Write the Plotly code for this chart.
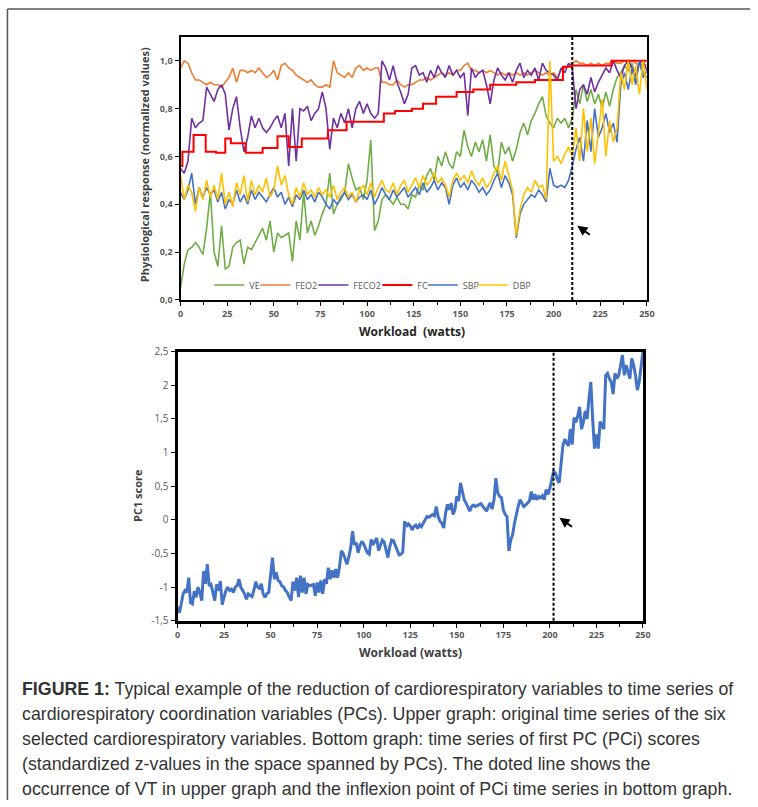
import plotly.graph_objects as go

# ---------------- data (upper graph, sampled every 2 W) ----------------
workload = list(range(0, 251, 2))

VE = [0.05, 0.15, 0.21, 0.22, 0.24, 0.22, 0.19, 0.30, 0.45, 0.20,
      0.14, 0.31, 0.13, 0.14, 0.22, 0.24, 0.25, 0.15, 0.22, 0.21,
      0.24, 0.27, 0.30, 0.25, 0.33, 0.20, 0.28, 0.26, 0.27, 0.28,
      0.16, 0.33, 0.25, 0.45, 0.28, 0.33, 0.27, 0.31, 0.36, 0.40,
      0.53, 0.36, 0.40, 0.42, 0.45, 0.57, 0.51, 0.46, 0.47, 0.42,
      0.50, 0.67, 0.29, 0.33, 0.42, 0.44, 0.42, 0.40, 0.43, 0.40,
      0.40, 0.38, 0.44, 0.43, 0.48, 0.46, 0.52, 0.55, 0.50, 0.60,
      0.56, 0.62, 0.57, 0.55, 0.62, 0.60, 0.71, 0.64, 0.60, 0.66,
      0.62, 0.67, 0.58, 0.69, 0.56, 0.53, 0.66, 0.61, 0.64, 0.58,
      0.63, 0.70, 0.74, 0.69, 0.75, 0.78, 0.82, 0.85, 0.77, 0.74,
      0.72, 0.76, 0.74, 0.76, 0.72, 0.76, 0.88, 0.82, 0.90, 0.83,
      0.88, 0.82, 0.86, 0.80, 0.87, 0.81, 0.88, 0.93, 0.95, 0.98,
      0.96, 0.99, 0.92, 1.00, 0.95, 0.93]

FEO2 = [0.97, 1.00, 0.99, 0.95, 0.92, 0.92, 0.91, 0.90, 0.91, 0.90,
        0.90, 0.89, 0.91, 0.93, 0.97, 0.91, 0.96, 0.96, 0.95, 0.96,
        0.95, 0.97, 0.95, 0.93, 0.94, 0.96, 0.92, 0.98, 0.99, 0.97,
        0.96, 0.94, 0.93, 0.92, 0.91, 0.92, 0.90, 0.89, 0.89, 0.90,
        0.89, 1.00, 0.95, 0.94, 0.93, 0.95, 0.93, 0.97, 0.98, 0.96,
        0.97, 0.96, 0.97, 0.97, 0.91, 0.91, 0.90, 0.90, 0.92, 0.90,
        0.89, 0.90, 0.90, 0.91, 0.92, 0.92, 0.93, 0.92, 0.93, 0.94,
        0.95, 0.94, 0.95, 0.94, 0.96, 0.96, 0.98, 0.99, 0.96, 0.96,
        0.95, 0.96, 0.95, 0.96, 0.95, 0.94, 0.95, 0.94, 0.95, 0.94,
        0.95, 0.94, 0.95, 0.94, 0.95, 0.96, 0.95, 0.94, 0.95, 0.94,
        0.95, 0.93, 0.96, 0.97, 0.98, 0.99, 1.00, 0.99, 0.99, 0.98,
        0.99, 0.98, 0.99, 0.98, 0.99, 0.99, 1.00, 0.99, 0.99, 1.00,
        0.99, 1.00, 0.99, 0.98, 0.99, 0.98]

FECO2 = [0.55, 0.53, 0.58, 0.76, 0.72, 0.74, 0.75, 0.89, 0.86, 0.83,
         0.88, 0.90, 0.86, 0.71, 0.80, 0.85, 0.72, 0.62, 0.68, 0.77,
         0.72, 0.76, 0.72, 0.70, 0.72, 0.75, 0.77, 0.72, 0.78, 0.56,
         0.80, 0.58, 0.80, 0.79, 0.81, 0.75, 0.78, 0.80, 0.87, 0.80,
         0.63, 0.76, 0.72, 0.78, 0.74, 0.80, 0.72, 0.80, 0.83, 0.78,
         0.82, 0.78, 0.76, 0.78, 1.00, 0.97, 0.92, 0.98, 0.91, 0.87,
         0.82, 0.86, 0.97, 0.98, 0.94, 0.95, 0.91, 0.96, 0.93, 0.98,
         0.95, 0.93, 0.98, 0.94, 0.96, 0.93, 0.95, 0.77, 0.97, 0.93,
         0.95, 0.96, 0.90, 0.82, 0.92, 0.97, 0.94, 0.92, 0.95, 0.91,
         0.96, 0.99, 0.93, 0.96, 0.94, 0.97, 0.92, 0.99, 0.96, 0.95,
         0.94, 0.92, 0.97, 0.95, 0.99, 0.97, 0.80, 0.88, 0.90, 0.86,
         0.93, 0.87, 0.91, 0.94, 0.97, 0.95, 1.00, 0.96, 0.93, 0.98,
         1.00, 0.97, 0.94, 0.99, 1.00, 0.96]

# heart rate (FC) is a step series: change points
FC_x = [0, 1, 7, 13.5, 19, 24, 27, 35, 44, 52, 58, 65, 79, 89, 109, 115,
        124, 130, 137, 148, 157, 166, 180, 190, 205, 210, 231, 250]
FC_y = [0.56, 0.62, 0.69, 0.62, 0.615, 0.675, 0.655, 0.615, 0.635, 0.685,
        0.64, 0.675, 0.71, 0.745, 0.78, 0.79, 0.80, 0.82, 0.85, 0.87,
        0.88, 0.90, 0.91, 0.92, 0.975, 0.98, 1.00, 1.00]

SBP = [0.45, 0.42, 0.46, 0.53, 0.40, 0.47, 0.43, 0.47, 0.44, 0.46,
       0.41, 0.45, 0.38, 0.42, 0.40, 0.46, 0.41, 0.44, 0.40, 0.46,
       0.42, 0.45, 0.43, 0.41, 0.44, 0.47, 0.43, 0.45, 0.40, 0.43,
       0.39, 0.44, 0.42, 0.46, 0.42, 0.44, 0.41, 0.45, 0.43, 0.40,
       0.38, 0.42, 0.40, 0.43, 0.45, 0.42, 0.44, 0.41, 0.43, 0.44,
       0.42, 0.46, 0.40, 0.43, 0.47, 0.44, 0.42, 0.46, 0.43, 0.45,
       0.47, 0.43, 0.45, 0.47, 0.44, 0.49, 0.45, 0.47, 0.50, 0.46,
       0.49, 0.47, 0.40, 0.48, 0.51, 0.47, 0.49, 0.46, 0.50, 0.48,
       0.45, 0.47, 0.44, 0.46, 0.50, 0.53, 0.47, 0.52, 0.49, 0.44,
       0.26, 0.36, 0.40, 0.42, 0.44, 0.43, 0.46, 0.44, 0.41, 0.55,
       0.48, 0.47, 0.48, 0.47, 0.50, 0.56, 0.63, 0.68, 0.58, 0.75,
       0.62, 0.80, 0.68, 0.72, 0.78, 0.70, 0.74, 0.66, 0.90, 0.95,
       0.88, 0.97, 0.90, 1.00, 0.93, 0.96]

DBP = [0.52, 0.42, 0.48, 0.45, 0.37, 0.47, 0.42, 0.50, 0.43, 0.48,
       0.42, 0.53, 0.40, 0.45, 0.39, 0.49, 0.44, 0.52, 0.41, 0.50,
       0.44, 0.48, 0.45, 0.51, 0.43, 0.46, 0.56, 0.48, 0.52, 0.44,
       0.40, 0.47, 0.43, 0.49, 0.44, 0.46, 0.43, 0.47, 0.44, 0.46,
       0.43, 0.48, 0.42, 0.45, 0.47, 0.43, 0.45, 0.41, 0.46, 0.48,
       0.44, 0.49, 0.43, 0.47, 0.50, 0.46, 0.45, 0.49, 0.44, 0.48,
       0.50, 0.45, 0.48, 0.51, 0.47, 0.52, 0.48, 0.50, 0.53, 0.49,
       0.51, 0.48, 0.43, 0.50, 0.53, 0.50, 0.52, 0.49, 0.54, 0.50,
       0.48, 0.51, 0.47, 0.49, 0.53, 0.56, 0.50, 0.58, 0.52, 0.46,
       0.27, 0.38, 0.44, 0.47, 0.45, 0.50, 0.47, 0.48, 0.42, 1.00,
       0.58, 0.60, 0.57, 0.61, 0.64, 0.60, 0.72, 0.58, 0.80, 0.62,
       0.76, 0.57, 0.70, 0.84, 0.60, 0.75, 0.66, 0.72, 0.95, 0.88,
       1.00, 0.90, 0.98, 0.86, 1.00, 0.88]

# ---------------- data (bottom graph, every 1 W) ----------------
pc_workload = list(range(0, 251))
PC1 = [-1.30, -1.38, -1.25, -1.10, -1.05, -1.08, -0.86, -1.23, -1.25, -1.06,
       -1.15, -1.00, -1.08, -1.20, -0.76, -0.95, -0.66, -0.98, -0.96, -1.10,
       -1.20, -0.96, -1.05, -0.91, -1.26, -1.15, -1.05, -1.00, -1.05, -1.03,
       -1.08, -1.00, -0.98, -0.88, -1.00, -1.05, -1.10, -1.18, -1.10, -1.12,
       -1.14, -1.05, -0.92, -1.00, -1.02, -0.95, -1.10, -1.15, -1.10, -1.08,
       -0.78, -0.56, -0.88, -0.78, -0.90, -0.92, -0.98, -1.00, -1.05, -1.08,
       -1.15, -1.20, -0.92, -1.05, -0.86, -1.15, -0.83, -1.08, -0.86, -1.10,
       -0.96, -0.98, -0.97, -0.96, -1.13, -0.93, -1.08, -0.90, -1.10, -0.88,
       -0.95, -0.71, -0.88, -0.75, -0.86, -0.73, -0.86, -0.70, -0.46, -0.50,
       -0.58, -0.66, -0.55, -0.42, -0.17, -0.37, -0.34, -0.49, -0.38, -0.32,
       -0.36, -0.42, -0.49, -0.51, -0.29, -0.37, -0.32, -0.27, -0.46, -0.36,
       -0.30, -0.33, -0.45, -0.56, -0.40, -0.30, -0.31, -0.38, -0.45, -0.52,
       -0.51, -0.48, -0.02, -0.10, -0.06, -0.09, -0.15, -0.10, -0.08, -0.13,
       -0.07, -0.10, -0.05, 0.00, 0.05, 0.04, 0.06, 0.08, 0.06, 0.20,
       0.05, -0.02, -0.05, -0.12, 0.10, 0.23, 0.15, 0.25, 0.08, 0.15,
       0.35, 0.28, 0.55, 0.40, 0.30, 0.25, 0.18, 0.13, 0.20, 0.22,
       0.20, 0.21, 0.22, 0.24, 0.20, 0.17, 0.13, 0.20, 0.25, 0.16,
       0.30, 0.62, 0.40, 0.35, 0.33, 0.15, 0.08, 0.05, -0.46, -0.30,
       -0.22, -0.05, 0.10, 0.20, 0.30, 0.25, 0.20, 0.22, 0.25, 0.28,
       0.42, 0.30, 0.38, 0.30, 0.35, 0.33, 0.36, 0.30, 0.45, 0.38,
       0.47, 0.62, 0.72, 0.70, 0.60, 0.55, 0.85, 1.10, 1.20, 1.15,
       1.10, 1.35, 1.12, 1.52, 1.45, 1.55, 1.68, 1.35, 1.45, 1.62,
       1.50, 1.80, 2.05, 1.50, 1.06, 1.27, 1.06, 1.46, 1.40, 1.35,
       2.15, 2.18, 2.10, 2.05, 1.87, 2.18, 2.10, 2.15, 2.30, 2.45,
       2.15, 2.30, 2.20, 2.10, 2.40, 2.30, 2.15, 1.93, 2.05, 2.25,
       2.50]

VT_WORKLOAD = 210          # dotted line, upper graph
INFLEXION_WORKLOAD = 202   # dotted line, bottom graph

x_ticks = [0, 25, 50, 75, 100, 125, 150, 175, 200, 225, 250]
top_y_ticks = [0.0, 0.2, 0.4, 0.6, 0.8, 1.0]
top_y_labels = ["0,0", "0,2", "0,4", "0,6", "0,8", "1,0"]
pc_y_ticks = [2.5, 2, 1.5, 1, 0.5, 0, -0.5, -1, -1.5]
pc_y_labels = ["2,5", "2", "1,5", "1", "0,5", "0", "-0,5", "-1", "-1,5"]

caption_lines = [
    "<b>FIGURE 1:</b> Typical example of the reduction of cardiorespiratory variables to time series of",
    "cardiorespiratory coordination variables (PCs). Upper graph: original time series of the six",
    "selected cardiorespiratory variables. Bottom graph: time series of first PC (PCi) scores",
    "(standardized z-values in the space spanned by PCs). The doted line shows the",
    "occurrence of VT in upper graph and the inflexion point of PCi time series in bottom graph.",
]

# ---------------- figure ----------------
W, H = 758, 807
# small calibration of the layout grid (target pixel -> layout pixel)
SX, OX = 0.991, 0.5
SY, OY = 0.985, 5.0
def px_x(p): return ((p - OX) / SX) / W
def px_y(p): return 1 - ((p - OY) / SY) / H

colors = {"VE": "#70AD47", "FEO2": "#ED7D31", "FECO2": "#7030A0",
          "FC": "#FF0000", "SBP": "#4472C4", "DBP": "#FFC000"}
legend_w = {"VE": 1, "FEO2": 13, "FECO2": 19, "FC": 0.5, "SBP": 5, "DBP": 20}

fig = go.Figure()
fig.add_trace(go.Scatter(x=workload, y=VE, name="VE", mode="lines", legendwidth=legend_w["VE"],
                         line=dict(color=colors["VE"], width=1.6)))
fig.add_trace(go.Scatter(x=workload, y=FEO2, name="FEO2", mode="lines", legendwidth=legend_w["FEO2"],
                         line=dict(color=colors["FEO2"], width=1.6)))
fig.add_trace(go.Scatter(x=workload, y=FECO2, name="FECO2", mode="lines", legendwidth=legend_w["FECO2"],
                         line=dict(color=colors["FECO2"], width=1.6)))
fig.add_trace(go.Scatter(x=FC_x, y=FC_y, name="FC", mode="lines", legendwidth=legend_w["FC"],
                         line=dict(color=colors["FC"], width=2, shape="hv")))
fig.add_trace(go.Scatter(x=workload, y=SBP, name="SBP", mode="lines", legendwidth=legend_w["SBP"],
                         line=dict(color=colors["SBP"], width=1.6)))
fig.add_trace(go.Scatter(x=workload, y=DBP, name="DBP", mode="lines", legendwidth=legend_w["DBP"],
                         line=dict(color=colors["DBP"], width=1.6)))
fig.add_trace(go.Scatter(x=pc_workload, y=PC1, name="PC1", mode="lines",
                         xaxis="x2", yaxis="y2", showlegend=False,
                         line=dict(color="#4472C4", width=3)))

tickfont = dict(family="Open Sans, Lato, sans-serif", size=9, color="#595959", weight="bold")

fig.update_layout(
    width=W, height=H,
    margin=dict(l=0, r=0, t=0, b=0),
    paper_bgcolor="white", plot_bgcolor="white",
    xaxis=dict(domain=[px_x(179), px_x(648)], anchor="y", range=[0, 250],
               tickvals=x_ticks, ticks="outside", ticklen=4, tickcolor="black",
               tickfont=tickfont, showline=True, linecolor="black", linewidth=2,
               mirror=True, showgrid=False, zeroline=False,
               minor=dict(dtick=12.5, tick0=0, ticks="outside", ticklen=3, tickcolor="black")),
    yaxis=dict(domain=[px_y(298), px_y(34)], anchor="x", range=[0, 1.1],
               tickvals=top_y_ticks, ticktext=top_y_labels, ticks="outside",
               ticklen=4, tickcolor="black", tickfont=tickfont,
               showline=True, linecolor="black", linewidth=2, mirror=True,
               showgrid=False, zeroline=False),
    xaxis2=dict(domain=[px_x(176), px_x(644)], anchor="y2", range=[0, 250],
                tickvals=x_ticks, ticks="outside", ticklen=4, tickcolor="black",
                tickfont=tickfont, showline=True, linecolor="black", linewidth=2.5,
                mirror=True, showgrid=False, zeroline=False,
                minor=dict(dtick=12.5, tick0=0, ticks="outside", ticklen=3, tickcolor="black")),
    yaxis2=dict(domain=[px_y(620), px_y(350)], anchor="x2", range=[-1.5, 2.5],
                tickvals=pc_y_ticks, ticktext=pc_y_labels, ticks="outside",
                ticklen=4, tickcolor="black",
                tickfont=dict(family="Open Sans, Lato, sans-serif", size=10, color="#595959"),
                showline=True, linecolor="black", linewidth=3, mirror=True,
                showgrid=False, zeroline=False),
    legend=dict(orientation="h", x=px_x(208), y=px_y(283), xanchor="left",
                yanchor="middle", bgcolor="rgba(0,0,0,0)", itemwidth=30,
                font=dict(family="Open Sans, Lato, sans-serif", size=9, color="#595959"),
                tracegroupgap=0),
    showlegend=True,
)

# dashed lines
fig.add_shape(type="line", xref="x", yref="y domain", x0=VT_WORKLOAD, x1=VT_WORKLOAD,
              y0=0, y1=1, line=dict(color="black", width=2, dash="3px,2px"))
fig.add_shape(type="line", xref="x2", yref="y2 domain", x0=INFLEXION_WORKLOAD,
              x1=INFLEXION_WORKLOAD, y0=0, y1=1, line=dict(color="black", width=2, dash="3px,2px"))

# arrows
fig.add_annotation(x=212.7, y=0.31, xref="x", yref="y", ax=14, ay=10, text="",
                   showarrow=True, arrowhead=2, arrowsize=1, arrowwidth=2, arrowcolor="black")
fig.add_annotation(x=205.2, y=0.03, xref="x2", yref="y2", ax=14, ay=10, text="",
                   showarrow=True, arrowhead=2, arrowsize=1, arrowwidth=2, arrowcolor="black")

# axis titles
title_font = dict(family="Open Sans, Lato, sans-serif", size=11, color="#404040", weight="bold")
fig.add_annotation(text="Workload  (watts)", x=px_x(412), y=px_y(330), xref="paper", yref="paper",
                   xanchor="center", yanchor="middle", showarrow=False,
                   font=dict(family="Open Sans, Lato, sans-serif", size=12,
                             color="#262626", weight="bold"))
fig.add_annotation(text="Physiological response (normalized values)", x=px_x(143), y=px_y(162),
                   xref="paper", yref="paper", xanchor="center", yanchor="middle",
                   showarrow=False, textangle=-90, font=title_font)
fig.add_annotation(text="Workload (watts)", x=px_x(410), y=px_y(652), xref="paper", yref="paper",
                   xanchor="center", yanchor="middle", showarrow=False,
                   font=dict(family="Open Sans, Lato, sans-serif", size=12,
                             color="#404040", weight="bold"))
fig.add_annotation(text="PC1 score", x=px_x(135), y=px_y(494), xref="paper", yref="paper",
                   xanchor="center", yanchor="middle", showarrow=False, textangle=-90,
                   font=title_font)

# caption
cap_font = dict(family="Liberation Sans, Arial, sans-serif", size=17.8, color="#333333")
for i, line in enumerate(caption_lines):
    fig.add_annotation(text=line, x=px_x(18), y=px_y(688 + 25.3 * i), xref="paper", yref="paper",
                       xanchor="left", yanchor="middle", showarrow=False, font=cap_font)

# outer frame (top and left edges)
frame_top = 1 - 0.9 / H
fig.add_shape(type="line", xref="paper", yref="paper", x0=px_x(5), x1=1, y0=frame_top, y1=frame_top,
              line=dict(color="#555555", width=1.5))
fig.add_shape(type="line", xref="paper", yref="paper", x0=px_x(5), x1=px_x(5), y0=frame_top, y1=0,
              line=dict(color="#555555", width=1.5))

fig.write_html("out.html", config={"displayModeBar": False},
               post_script="document.body.style.margin='0';")
